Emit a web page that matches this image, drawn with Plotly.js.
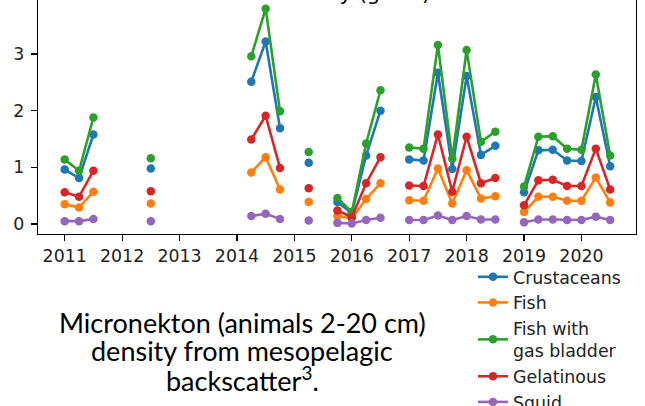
<!DOCTYPE html>
<html>
<head>
<meta charset="utf-8">
<script src="https://cdn.plot.ly/plotly-3.0.1.min.js"></script>
<style>html,body{margin:0;padding:0;background:#fff;}#chart{width:645px;height:406px;}</style>
</head>
<body>
<div id="chart"></div>
<script>
// Survey times (decimal years); null values in series break the line between cruises
const years = [2011.0, 2011.25, 2011.5, 2011.75, 2012.5, 2012.75,
  2014.25, 2014.5, 2014.75, 2015.0, 2015.25, 2015.5,
  2015.75, 2016.0, 2016.25, 2016.5, 2016.75,
  2017.0, 2017.25, 2017.5, 2017.75, 2018.0, 2018.25, 2018.5, 2018.75,
  2019.0, 2019.25, 2019.5, 2019.75, 2020.0, 2020.25, 2020.5];

const crustaceans = [0.96, 0.81, 1.58, null, 0.98, null,
  2.51, 3.22, 1.69, null, 1.08, null,
  0.39, 0.19, 1.21, 2.00, null,
  1.14, 1.12, 2.67, 0.97, 2.61, 1.22, 1.38, null,
  0.56, 1.30, 1.31, 1.12, 1.11, 2.24, 1.02];
const fish = [0.35, 0.29, 0.57, null, 0.36, null,
  0.91, 1.18, 0.61, null, 0.39, null,
  0.14, 0.10, 0.44, 0.72, null,
  0.42, 0.41, 0.98, 0.36, 0.95, 0.45, 0.49, null,
  0.21, 0.48, 0.48, 0.41, 0.41, 0.82, 0.38];
const fishGasBladder = [1.14, 0.94, 1.88, null, 1.16, null,
  2.96, 3.80, 1.99, null, 1.27, null,
  0.46, 0.21, 1.42, 2.36, null,
  1.35, 1.33, 3.16, 1.15, 3.07, 1.45, 1.63, null,
  0.66, 1.54, 1.55, 1.33, 1.31, 2.64, 1.21];
const gelatinous = [0.56, 0.48, 0.94, null, 0.58, null,
  1.49, 1.91, 0.99, null, 0.63, null,
  0.24, 0.12, 0.72, 1.18, null,
  0.68, 0.67, 1.58, 0.57, 1.54, 0.72, 0.81, null,
  0.33, 0.77, 0.78, 0.67, 0.67, 1.33, 0.61];
const squid = [0.05, 0.05, 0.09, null, 0.05, null,
  0.14, 0.18, 0.09, null, 0.06, null,
  0.02, 0.01, 0.07, 0.11, null,
  0.07, 0.07, 0.15, 0.07, 0.14, 0.08, 0.08, null,
  0.03, 0.08, 0.08, 0.07, 0.07, 0.13, 0.07];

const seriesNames = ['Crustaceans', 'Fish', 'Fish with<br>gas bladder', 'Gelatinous', 'Squid'];
const seriesValues = [crustaceans, fish, fishGasBladder, gelatinous, squid];
const seriesColors = ['#1f77b4', '#ff7f0e', '#2ca02c', '#d62728', '#9467bd'];

const tickYears = [2011, 2012, 2013, 2014, 2015, 2016, 2017, 2018, 2019, 2020];
const tickLabels = ['2011', '2012', '2013', '2014', '2015', '2016', '2017', '2018', '2019', '2020'];
const yTicks = [0, 1, 2, 3];

const captionLines = ['Micronekton (animals 2-20 cm)', 'density from mesopelagic', 'backscatter<sup>3</sup>.'];
const titleText = 'Micronekton density (g m<sup>-2</sup>)';

const traces = seriesNames.map((name, i) => ({
  type: 'scatter',
  mode: 'lines+markers',
  name: name,
  x: years,
  y: seriesValues[i],
  connectgaps: false,
  line: {color: seriesColors[i], width: 2.6},
  marker: {color: seriesColors[i], size: 8.5},
  cliponaxis: false
}));

// plot area: 38..636 px wide, 0..234 px tall
const PW = 598, PH = 234;
const py = px => (PH - px) / PH;   // page pixel row -> paper y
const pxX = px => (px - 38) / PW;  // page pixel column -> paper x

const captionRows = [322, 350.5, 379];
const annotations = [
  {
    xref: 'paper', yref: 'paper', x: pxX(432), y: py(-9),
    xanchor: 'right', yanchor: 'middle', showarrow: false,
    text: titleText,
    font: {family: 'DejaVu Sans', size: 21, color: '#000'}
  }
].concat(captionLines.map((t, i) => ({
  xref: 'paper', yref: 'paper', x: pxX(242), y: py(captionRows[i]),
  xanchor: 'center', yanchor: 'middle', showarrow: false,
  text: t,
  font: {family: 'Lato', size: 27, color: '#000'}
})));

const layout = {
  width: 645, height: 406,
  margin: {l: 38, r: 9, t: 0, b: 172, autoexpand: false},
  paper_bgcolor: '#ffffff', plot_bgcolor: '#ffffff',
  font: {family: 'DejaVu Sans', size: 17.4, color: '#000'},
  showlegend: true,
  xaxis: {
    range: [2010.535, 2020.95], automargin: false,
    tickmode: 'array', tickvals: tickYears, ticktext: tickLabels,
    ticks: 'outside', ticklen: 6, tickwidth: 1.2, tickcolor: '#000',
    showline: true, linecolor: '#000', linewidth: 1.3, mirror: false,
    showgrid: false, zeroline: false,
    tickfont: {family: 'DejaVu Sans', size: 17.4, color: '#222'}
  },
  yaxis: {
    range: [-0.1765, 3.953], automargin: false,
    tickmode: 'array', tickvals: yTicks,
    ticks: 'outside', ticklen: 6, tickwidth: 1.2, tickcolor: '#000',
    showline: true, linecolor: '#000', linewidth: 1.3, mirror: true,
    showgrid: false, zeroline: false,
    ticklabelstandoff: 3,
    tickfont: {family: 'DejaVu Sans', size: 17.4, color: '#222'}
  },
  legend: {
    x: pxX(473), y: py(259), xanchor: 'left', yanchor: 'top',
    bgcolor: 'rgba(0,0,0,0)', borderwidth: 0,
    font: {family: 'DejaVu Sans', size: 17.4, color: '#222'},
    itemwidth: 30, tracegroupgap: 0
  },
  annotations: annotations
};

Plotly.newPlot('chart', traces, layout, {staticPlot: true, displayModeBar: false});
</script>
</body>
</html>
